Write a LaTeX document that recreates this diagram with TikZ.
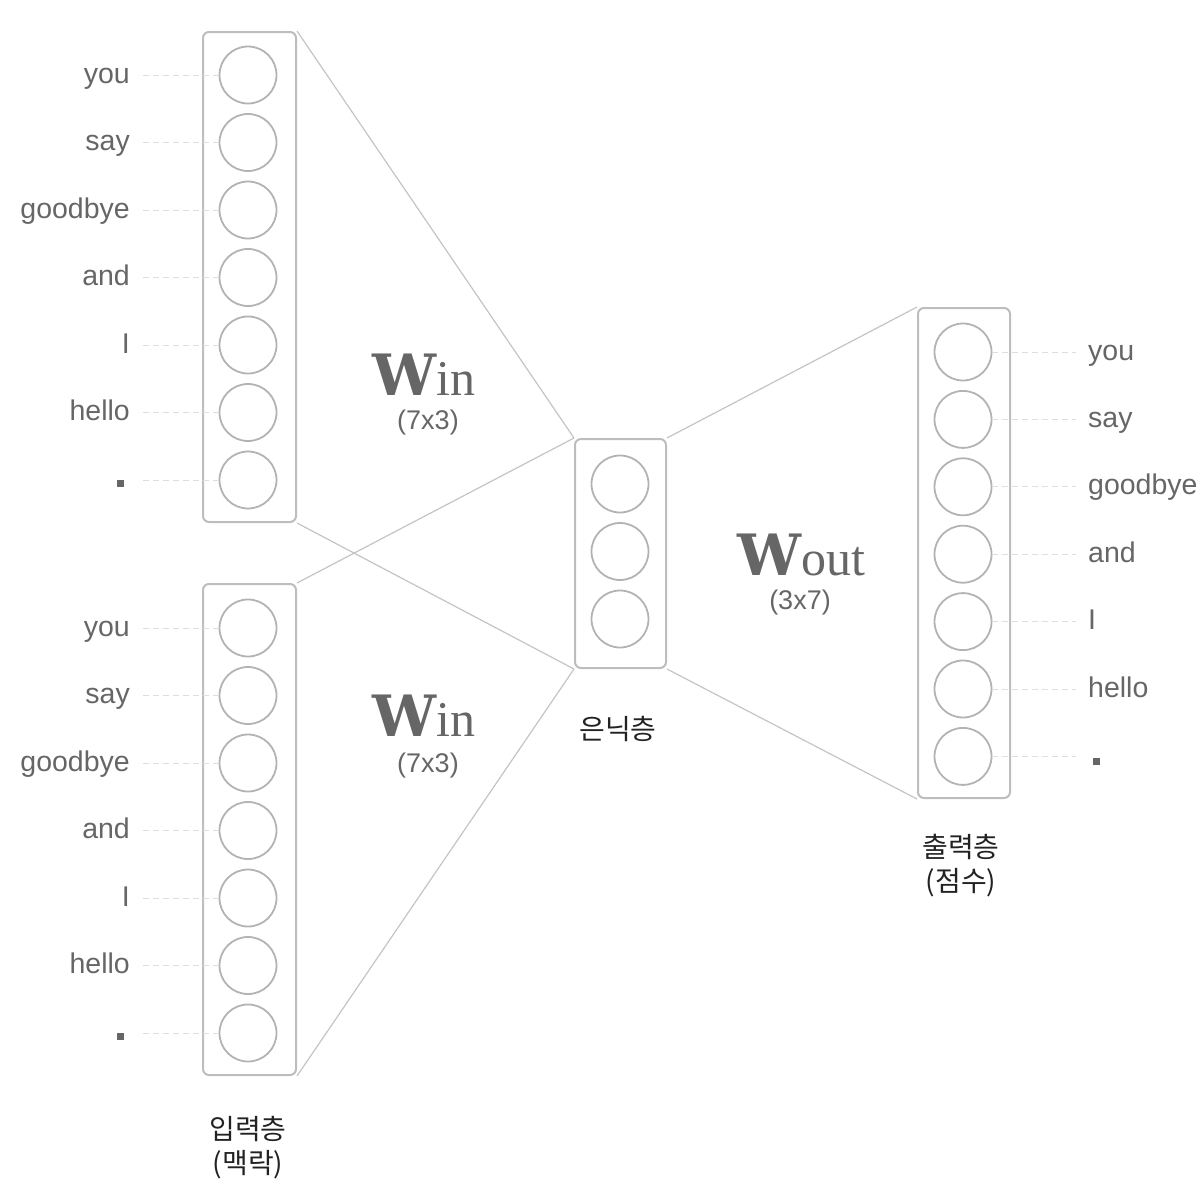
\documentclass[tikz,border=0pt]{standalone}
\usepackage{fontspec}
\setmainfont{Liberation Sans}
\newfontfamily\krfont{Noto Sans CJK KR}
\newfontfamily\wfont{Liberation Serif}
\newfontfamily\wbold{DejaVu Serif}
\definecolor{txt}{HTML}{666666}
\definecolor{kortxt}{HTML}{222222}
\definecolor{boxgray}{HTML}{BDBDBD}
\definecolor{circgray}{HTML}{B3B3B3}
\definecolor{wiregray}{HTML}{C4C4C4}
\definecolor{guidegray}{HTML}{DEDEDE}
\newcommand\Wmat[1]{{\fontsize{57}{57}\selectfont\wbold\bfseries W}{\fontsize{50}{50}\selectfont\wfont #1}}
\begin{document}
\begin{tikzpicture}[x=1pt,y=-1pt,
  layerbox/.style={draw=boxgray, line width=2pt, rounded corners=6pt, minimum width=93pt, inner sep=0pt},
  unit/.style={circle, draw=circgray, line width=1.8pt, minimum size=57pt, inner sep=0pt},
  wire/.style={draw=wiregray, line width=1.2pt},
  guide/.style={draw=guidegray, line width=1pt, dash pattern=on 6pt off 4pt},
  word/.style={text=txt, font=\fontsize{28.5}{34}\selectfont, inner sep=0pt},
  dotsq/.style={rectangle, fill=txt, minimum size=7pt, inner sep=0pt},
  wlab/.style={text=txt, inner sep=0pt, anchor=base, text depth=0pt},
  dimlab/.style={text=txt, font=\fontsize{27}{32}\selectfont, inner sep=0pt, anchor=base, text height=17pt},
  kor/.style={text=kortxt, font=\krfont\fontsize{28}{34}\selectfont, align=center, inner sep=0pt}
]
\useasboundingbox (0,0) rectangle (1200,1184);

% layer boxes
\node[layerbox, minimum height=490pt] (inA) at (249.5,277) {};
\node[layerbox, minimum height=491pt] (inB) at (249.5,829.5) {};
\node[layerbox, minimum width=91pt, minimum height=229pt] (hid) at (620.5,553.5) {};
\node[layerbox, minimum width=92pt, minimum height=490pt] (outL) at (964,553) {};

% units
\foreach \i in {1,...,7} {
  \node[unit] (a\i) at (248,{75+67.5*(\i-1)}) {};
  \node[unit] (b\i) at (248,{628+67.5*(\i-1)}) {};
  \node[unit] (d\i) at (963,{352+67.4*(\i-1)}) {};
}
\foreach \i in {1,2,3} {
  \node[unit] (h\i) at (620,{484+67.5*(\i-1)}) {};
}

% word labels
\foreach \w [count=\i] in {you,say,goodbye,and,I,hello} {
  \node[word, anchor=base east] (aw\i) at (130,{75+67.5*(\i-1)+8}) {\w};
  \node[word, anchor=base east] (bw\i) at (130,{628+67.5*(\i-1)+8}) {\w};
  \node[word, anchor=base west] (dw\i) at (1088,{352+67.4*(\i-1)+8}) {\w};
}
\node[dotsq] (aw7) at (120.5,483.5) {};
\node[dotsq] (bw7) at (120.5,1036.5) {};
\node[dotsq] (dw7) at (1096,761) {};

% guide lines
\foreach \i in {1,...,7} {
  \draw[guide] (a\i.west) -- ++(-80,0);
  \draw[guide] (b\i.west) -- ++(-80,0);
  \draw[guide] (d\i.east) -- ++(84,0);
}

% connectors
\draw[wire] (inA.north east) -- (hid.north west);
\draw[wire] (inA.south east) -- (hid.south west);
\draw[wire] (inB.north east) -- (hid.north west);
\draw[wire] (inB.south east) -- (hid.south west);
\draw[wire] (hid.north east) -- (outL.north west);
\draw[wire] (hid.south east) -- (outL.south west);

% weight labels
\node[wlab] (win1) at (424,395) {\Wmat{in}};
\node[dimlab] (dim1) at (428,429) {(7x3)};
\node[wlab] (win2) at (424,736) {\Wmat{in}};
\node[dimlab] (dim2) at (428,772) {(7x3)};
\node[wlab] (wout) at (801,575) {\Wmat{out}};
\node[dimlab] (dim3) at (800,609) {(3x7)};

% layer names
\node[kor] (nin) at (248,1148) {입력층\\(맥락)};
\node[kor] (nhid) at (618,729) {은닉층};
\node[kor] (nout) at (961,866) {출력층\\(점수)};
\end{tikzpicture}
\end{document}
